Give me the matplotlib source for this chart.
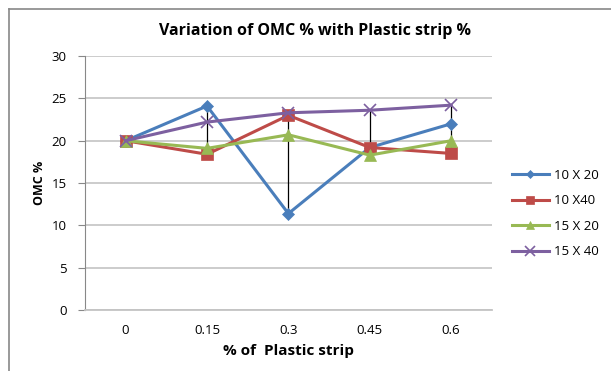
import matplotlib.pyplot as plt
from matplotlib.lines import Line2D
import numpy as np

plt.rcParams['font.family'] = ['Open Sans', 'DejaVu Sans']

# strip content (%) and OMC (%) for each strip size
categories = ['0', '0.15', '0.3', '0.45', '0.6']
omc_10x20 = [20.0, 24.1, 11.4, 19.2, 22.0]
omc_10x40 = [20.0, 18.4, 23.0, 19.2, 18.5]
omc_15x20 = [20.0, 19.1, 20.7, 18.3, 20.0]
omc_15x40 = [20.0, 22.2, 23.3, 23.6, 24.2]
labels = ['10 X 20', '10 X40', '15 X 20', '15 X 40']

fig = plt.figure(figsize=(6.11, 3.71), dpi=100)
ax = fig.add_axes([0.139, 0.164, 0.666, 0.685])

x = np.arange(len(categories))
series = [omc_10x20, omc_10x40, omc_15x20, omc_15x40]
colors = ['#4A7EBB', '#BE4B48', '#98B954', '#7D60A0']
markers = ['D', 's', '^', 'x']
sizes = [6, 8, 8, 9]

# high-low lines joining the extremes at each strip content
data = np.array(series)
ax.vlines(x, data.min(axis=0), data.max(axis=0), color='black', lw=0.9, zorder=2)

for vals, c, m, ms, lab in zip(series, colors, markers, sizes, labels):
    ax.plot(x, vals, color=c, lw=2.2, marker=m, markersize=ms,
            markeredgewidth=1.2 if m == 'x' else 0.5, markeredgecolor=c,
            label=lab, zorder=3)

ax.set_xlim(-0.5, len(categories) - 0.5)
ax.set_ylim(0, 30)
ax.set_yticks(range(0, 31, 5))
ax.set_xticks(x)
ax.set_xticklabels(categories)
ax.tick_params(axis='x', length=0, pad=10, labelsize=9.5)
ax.tick_params(axis='y', length=5, width=0.8, color='#888888', pad=8, labelsize=9.5)
ax.grid(axis='y', color='#C4C4C4', lw=1.2)
ax.set_axisbelow(True)
for side in ['top', 'right']:
    ax.spines[side].set_visible(False)
ax.spines['left'].set_color('#888888')
ax.spines['bottom'].set_color('#C4C4C4')
ax.spines['bottom'].set_linewidth(1.3)

ax.set_title('Variation of OMC % with Plastic strip %', fontsize=11.5,
             fontweight='bold', pad=15, x=0.565)
ax.set_xlabel('% of  Plastic strip', fontsize=11, fontweight='bold', labelpad=5)
ax.set_ylabel('OMC %', fontsize=9, fontweight='bold', labelpad=4)

ax.legend(loc='center left', bbox_to_anchor=(1.02, 0.38), frameon=False,
          fontsize=9.5, handlelength=2.8, labelspacing=0.95, handletextpad=0.4,
          markerscale=0.75)

# outer chart border
fig.add_artist(Line2D([8.5 / 611, 1.0], [1 - 8.5 / 371] * 2, color='#888888', lw=1.2))
fig.add_artist(Line2D([8.5 / 611] * 2, [0.0, 1 - 8.5 / 371], color='#888888', lw=1.2))

fig.savefig('out.png', dpi=100)
